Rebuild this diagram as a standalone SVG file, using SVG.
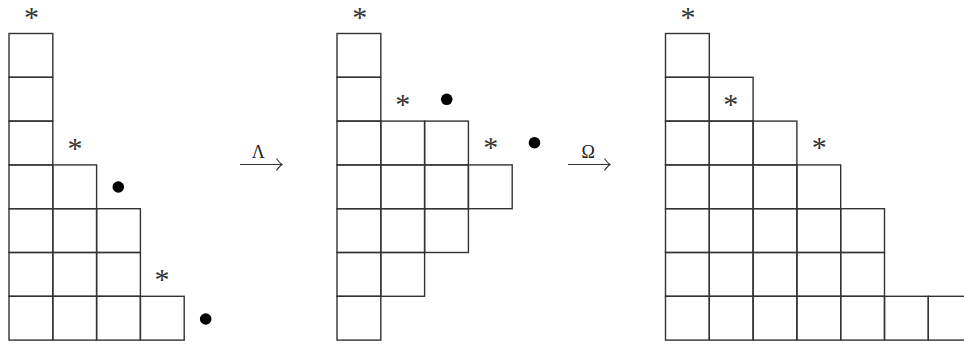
<svg xmlns="http://www.w3.org/2000/svg" xmlns:xlink="http://www.w3.org/1999/xlink" width="964" height="346" viewBox="0 0 964 346">
<style>
.c{fill:none;stroke:#333;stroke-width:1.4}
.st{font-family:"Liberation Serif",serif;font-size:30px;fill:#333;text-anchor:middle}
.lb{font-family:"Liberation Serif",serif;font-size:18px;fill:#222;text-anchor:middle}
.ar{fill:none;stroke:#333;stroke-width:1.1}
.dot{fill:#000}
</style>
<defs>
<rect id="cell" class="c" width="43.8" height="43.8"/>
</defs>
<rect width="964" height="346" fill="#fff"/>
<g id="diagram1">
<use xlink:href="#cell" x="9" y="33.5"/><use xlink:href="#cell" x="9" y="77.3"/><use xlink:href="#cell" x="9" y="121.1"/><use xlink:href="#cell" x="9" y="164.9"/><use xlink:href="#cell" x="9" y="208.7"/><use xlink:href="#cell" x="9" y="252.5"/><use xlink:href="#cell" x="9" y="296.3"/>
<use xlink:href="#cell" x="52.8" y="164.9"/><use xlink:href="#cell" x="52.8" y="208.7"/><use xlink:href="#cell" x="52.8" y="252.5"/><use xlink:href="#cell" x="52.8" y="296.3"/>
<use xlink:href="#cell" x="96.6" y="208.7"/><use xlink:href="#cell" x="96.6" y="252.5"/><use xlink:href="#cell" x="96.6" y="296.3"/>
<use xlink:href="#cell" x="140.4" y="296.3"/>
<text class="st" x="31.5" y="26.5">*</text>
<text class="st" x="75" y="157.8">*</text>
<text class="st" x="162" y="288.8">*</text>
<circle class="dot" cx="118.3" cy="187" r="5.8"/>
<circle class="dot" cx="205.7" cy="319" r="5.8"/>
</g>
<g id="diagram2">
<use xlink:href="#cell" x="337" y="33.5"/><use xlink:href="#cell" x="337" y="77.3"/><use xlink:href="#cell" x="337" y="121.1"/><use xlink:href="#cell" x="337" y="164.9"/><use xlink:href="#cell" x="337" y="208.7"/><use xlink:href="#cell" x="337" y="252.5"/><use xlink:href="#cell" x="337" y="296.3"/>
<use xlink:href="#cell" x="380.8" y="121.1"/><use xlink:href="#cell" x="380.8" y="164.9"/><use xlink:href="#cell" x="380.8" y="208.7"/><use xlink:href="#cell" x="380.8" y="252.5"/>
<use xlink:href="#cell" x="424.6" y="121.1"/><use xlink:href="#cell" x="424.6" y="164.9"/><use xlink:href="#cell" x="424.6" y="208.7"/>
<use xlink:href="#cell" x="468.4" y="164.9"/>
<text class="st" x="359.7" y="26.5">*</text>
<text class="st" x="402.7" y="113.8">*</text>
<text class="st" x="490.7" y="157.1">*</text>
<circle class="dot" cx="446.7" cy="99.3" r="5.8"/>
<circle class="dot" cx="534.5" cy="142.7" r="5.8"/>
</g>
<g id="diagram3">
<use xlink:href="#cell" x="665.5" y="33.5"/><use xlink:href="#cell" x="665.5" y="77.3"/><use xlink:href="#cell" x="665.5" y="121.1"/><use xlink:href="#cell" x="665.5" y="164.9"/><use xlink:href="#cell" x="665.5" y="208.7"/><use xlink:href="#cell" x="665.5" y="252.5"/><use xlink:href="#cell" x="665.5" y="296.3"/>
<use xlink:href="#cell" x="709.3" y="77.3"/><use xlink:href="#cell" x="709.3" y="121.1"/><use xlink:href="#cell" x="709.3" y="164.9"/><use xlink:href="#cell" x="709.3" y="208.7"/><use xlink:href="#cell" x="709.3" y="252.5"/><use xlink:href="#cell" x="709.3" y="296.3"/>
<use xlink:href="#cell" x="753.1" y="121.1"/><use xlink:href="#cell" x="753.1" y="164.9"/><use xlink:href="#cell" x="753.1" y="208.7"/><use xlink:href="#cell" x="753.1" y="252.5"/><use xlink:href="#cell" x="753.1" y="296.3"/>
<use xlink:href="#cell" x="796.9" y="164.9"/><use xlink:href="#cell" x="796.9" y="208.7"/><use xlink:href="#cell" x="796.9" y="252.5"/><use xlink:href="#cell" x="796.9" y="296.3"/>
<use xlink:href="#cell" x="840.7" y="208.7"/><use xlink:href="#cell" x="840.7" y="252.5"/><use xlink:href="#cell" x="840.7" y="296.3"/>
<use xlink:href="#cell" x="884.5" y="296.3"/>
<use xlink:href="#cell" x="928.3" y="296.3"/>
<text class="st" x="688" y="26.5">*</text>
<text class="st" x="730.7" y="113.8">*</text>
<text class="st" x="819.3" y="157.1">*</text>
</g>
<g id="connectors">
<g id="arrow-lambda">
<line class="ar" x1="240" y1="164.5" x2="281.5" y2="164.5"/>
<path class="ar" d="M276.5,158.5 Q279,162.5 282,164.5 Q279,166.5 276.5,170.5"/>
<text class="lb" x="258.3" y="157.5">Λ</text>
</g>
<g id="arrow-omega">
<line class="ar" x1="568" y1="164.5" x2="609.5" y2="164.5"/>
<path class="ar" d="M604.5,158.5 Q607,162.5 610,164.5 Q607,166.5 604.5,170.5"/>
<text class="lb" x="588.3" y="157.5">Ω</text>
</g>
</g>
</svg>
